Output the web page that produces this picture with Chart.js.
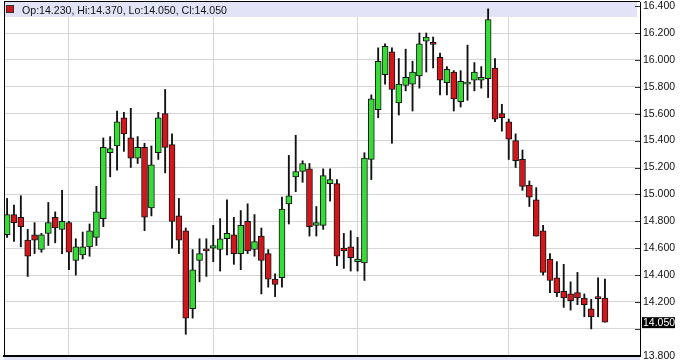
<!DOCTYPE html>
<html>
<head>
<meta charset="utf-8">
<script src="https://cdn.jsdelivr.net/npm/chart.js@4.4.1/dist/chart.umd.min.js"></script>
<style>
html,body{margin:0;padding:0;background:#fff;}
#wrap{position:relative;width:680px;height:360px;overflow:hidden;}
#c{position:absolute;left:0;top:0;}
#sq{position:absolute;left:6px;top:5px;width:6px;height:6px;background:#d4161a;border:1px solid #333;}
#hdr{position:absolute;left:22px;top:3px;font-family:"Liberation Sans",Arial,sans-serif;font-size:10.6px;line-height:15px;color:#111;white-space:nowrap;}
</style>
</head>
<body>
<div id="wrap">
<canvas id="c" width="680" height="360"></canvas>
<div id="sq"></div>
<div id="hdr">Op:14.230, Hi:14.370, Lo:14.050, Cl:14.050</div>
</div>
<script>
const opens = [14.70,14.85,14.83,14.66,14.70,14.59,14.71,14.83,14.74,14.79,
 14.51,14.55,14.61,14.68,14.82,15.31,15.36,15.57,15.42,15.27,
 15.35,14.90,15.31,15.60,15.37,14.84,14.73,14.15,14.51,14.59,
 14.60,14.59,14.67,14.70,14.56,14.80,14.59,14.69,14.56,14.37,
 14.38,14.93,15.13,15.17,15.19,14.77,14.77,15.08,15.08,14.60,
 14.61,14.50,14.49,15.26,15.63,15.89,16.06,15.68,15.81,15.82,
 15.88,16.14,16.12,16.02,15.83,15.91,15.69,15.82,15.85,15.85,
 15.86,15.94,15.60,15.54,15.40,15.26,15.07,14.96,14.73,14.52,
 14.38,14.28,14.26,14.27,14.23,14.15,14.23,14.23];
const highs = [14.97,14.92,14.99,14.74,14.79,14.71,14.94,14.87,15.03,14.80,
 14.67,14.72,14.78,15.06,15.42,15.43,15.62,15.61,15.64,15.43,
 15.38,15.36,15.61,15.78,15.45,14.97,14.75,14.59,14.67,14.67,
 14.77,14.82,14.96,14.83,14.88,14.93,14.85,14.75,14.59,14.41,
 14.98,15.29,15.44,15.25,15.23,14.91,15.19,15.19,15.11,14.71,
 14.73,14.68,15.31,15.74,16.09,16.12,16.09,16.01,16.08,15.99,
 16.20,16.20,16.17,16.05,15.95,15.92,15.92,16.11,15.98,15.95,
 16.38,16.01,15.67,15.56,15.45,15.33,15.10,15.05,14.77,14.56,
 14.50,14.48,14.35,14.42,14.26,14.22,14.38,14.37];
const lows = [14.68,14.65,14.61,14.39,14.56,14.57,14.62,14.64,14.56,14.44,
 14.40,14.52,14.54,14.62,14.76,15.13,15.18,15.32,15.20,15.23,
 14.73,14.84,15.26,15.16,14.60,14.56,13.96,14.08,14.35,14.39,
 14.50,14.43,14.55,14.48,14.44,14.56,14.54,14.26,14.31,14.24,
 14.31,14.78,15.02,15.09,14.69,14.69,14.74,14.95,14.47,14.45,
 14.43,14.43,14.36,15.11,15.57,15.82,15.38,15.59,15.77,15.62,
 15.79,15.91,15.94,15.74,15.74,15.62,15.65,15.70,15.77,15.79,
 15.72,15.54,15.47,15.26,15.20,15.03,14.91,14.69,14.40,14.27,
 14.24,14.16,14.14,14.18,14.09,14.00,14.09,14.05];
const closes = [14.85,14.79,14.76,14.54,14.66,14.70,14.79,14.75,14.80,14.57,
 14.61,14.61,14.73,14.87,15.35,15.34,15.54,15.45,15.27,15.35,
 14.83,15.22,15.57,15.35,14.80,14.66,14.08,14.44,14.56,14.58,
 14.62,14.67,14.71,14.56,14.77,14.58,14.65,14.51,14.37,14.33,
 14.89,14.99,15.17,15.23,14.76,14.79,15.14,15.11,14.54,14.58,
 14.53,14.52,15.27,15.71,15.99,16.10,15.78,15.82,15.87,15.91,
 16.12,16.17,16.115,15.85,15.93,15.71,15.84,15.83,15.91,15.87,
 16.30,15.56,15.57,15.41,15.25,15.06,14.98,14.69,14.42,14.36,
 14.27,14.23,14.21,14.23,14.18,14.09,14.225,14.05];
const periodStarts = [9, 30, 51, 73];
const yTicks = [13.8,14.0,14.2,14.4,14.6,14.8,15.0,15.2,15.4,15.6,15.8,16.0,16.2,16.4];

const GREEN = '#36dc36';
const RED = '#d0181c';
const lastClose = closes[closes.length - 1];

Chart.defaults.font.family = "'Liberation Sans', Arial, sans-serif";

const framePlugin = {
  id: 'frame',
  beforeDraw(chart) {
    const {ctx, chartArea: a} = chart;
    ctx.save();
    ctx.fillStyle = '#e3e3f7';
    ctx.fillRect(a.left, a.bottom + 1, a.right - a.left, 6);
    ctx.restore();
  },
  beforeDatasetsDraw(chart) {
    const {ctx, chartArea: a} = chart;
    ctx.save();
    ctx.fillStyle = '#e3e3f7';
    ctx.fillRect(a.left + 1, a.top, a.right - a.left - 4, 15);
    ctx.restore();
  },
  afterDraw(chart) {
    const {ctx, chartArea: a} = chart;
    const ys = chart.scales.y;
    ctx.save();
    ctx.fillStyle = '#000';
    ctx.fillRect(a.left, a.top - 1, a.right - a.left, 1);
    ctx.fillRect(a.left, a.top - 1, 1, a.bottom - a.top + 1);
    ctx.strokeStyle = '#333';
    ctx.lineWidth = 1;
    yTicks.forEach(v => {
      const y = Math.round(ys.getPixelForValue(v)) + 0.5;
      if (y > a.top && y < a.bottom - 1) {
        ctx.beginPath();
        ctx.moveTo(a.right - 5, y);
        ctx.lineTo(a.right, y);
        ctx.stroke();
      }
    });
    const py = ys.getPixelForValue(lastClose);
    ctx.fillStyle = '#000';
    ctx.fillRect(a.right + 2, py - 5, 33, 11);
    ctx.fillStyle = '#fff';
    ctx.font = "10.5px 'Liberation Sans', Arial, sans-serif";
    ctx.textBaseline = 'middle';
    ctx.textAlign = 'left';
    ctx.fillText(lastClose.toFixed(3), a.right + 3, py + 0.5);
    ctx.restore();
  }
};

new Chart(document.getElementById('c'), {
  type: 'bar',
  data: {
    datasets: [
      {
        label: 'body',
        order: 0,
        data: opens.map((o, i) => ({x: i, y: [Math.min(o, closes[i]), Math.max(o, closes[i])]})),
        backgroundColor: opens.map((o, i) => closes[i] >= o ? GREEN : RED),
        borderColor: '#141414',
        borderWidth: 1,
        borderSkipped: false,
        barThickness: 6,
        minBarLength: 2,
        grouped: false
      },
      {
        label: 'wick',
        order: 1,
        data: lows.map((l, i) => ({x: i, y: [l, highs[i]]})),
        backgroundColor: '#111',
        borderWidth: 0,
        barThickness: 1.2,
        grouped: false
      }
    ]
  },
  options: {
    responsive: false,
    animation: false,
    events: [],
    layout: {padding: {top: 2, left: 4, right: 0, bottom: 4}},
    plugins: {legend: {display: false}, tooltip: {enabled: false}, title: {display: false}},
    scales: {
      x: {
        type: 'linear',
        min: -0.45,
        max: 92.1,
        offset: false,
        grid: {color: '#d4d4d4', drawTicks: false, lineWidth: 1, offset: false},
        border: {display: true, color: '#000', width: 2},
        ticks: {display: false},
        afterBuildTicks: s => { s.ticks = periodStarts.map(v => ({value: v})); }
      },
      y: {
        type: 'linear',
        position: 'right',
        min: 13.7985,
        max: 16.4305,
        grid: {color: '#d6d6d6', drawTicks: false, lineWidth: 1, offset: false},
        border: {display: true, color: '#000', width: 1},
        ticks: {
          padding: 3,
          color: '#111',
          autoSkip: false,
          font: {size: 10.5},
          callback: v => Math.abs(v - lastClose) < 0.1 ? '' : Number(v).toFixed(3)
        },
        afterBuildTicks: s => { s.ticks = yTicks.map(v => ({value: v})); },
        afterFit: s => { s.width = 40; s.paddingTop = 0; s.paddingBottom = 0; }
      }
    }
  },
  plugins: [framePlugin]
});
</script>
</body>
</html>
